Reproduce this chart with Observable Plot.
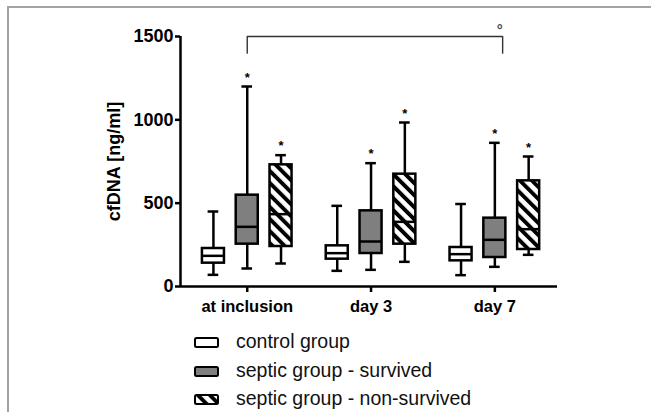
<!DOCTYPE html>
<html><head><meta charset="utf-8">
<script src="https://cdn.jsdelivr.net/npm/d3@7"></script>
<script src="https://cdn.jsdelivr.net/npm/@observablehq/plot@0.6"></script>
<style>
html,body{margin:0;padding:0;background:#fff}
body{width:651px;height:412px;overflow:hidden;position:relative;font-family:"Liberation Sans",Arial,sans-serif}
#border{position:absolute;left:7px;top:6px;width:720px;height:500px;border-left:2px solid #a3a3a3;border-top:2px solid #a3a3a3}
#chart{position:absolute;left:0;top:0}
.sw{position:absolute;left:193px;width:28px;height:13px}
.lt{position:absolute;left:236px;font-size:19.5px;line-height:24px;color:#111;white-space:nowrap}
</style></head><body>
<svg width="0" height="0" style="position:absolute"><defs>
<pattern id="hatch" patternUnits="userSpaceOnUse" width="8.5" height="8.5" patternTransform="rotate(-45)">
<rect width="8.5" height="8.5" fill="#fff"/><rect width="3.9" height="8.5" fill="#000"/></pattern>
</defs></svg>
<div id="border"></div>
<div id="chart"></div>
<div id="legend"></div>
<script>
// ---- data ----
const times = ["at inclusion", "day 3", "day 7"];
const groups = ["control group", "septic group - survived", "septic group - non-survived"];
// box statistics per group, one value per time point
const controlMin = [70, 94, 68];
const controlQ1 = [140, 164, 154];
const controlMed = [184, 200, 194];
const controlQ3 = [228, 244, 234];
const controlMax = [450, 484, 495];

const survivedMin = [108, 100, 118];
const survivedQ1 = [254, 198, 174];
const survivedMed = [358, 270, 280];
const survivedQ3 = [548, 454, 410];
const survivedMax = [1200, 740, 862];

const nonSurvivedMin = [138, 148, 190];
const nonSurvivedQ1 = [240, 254, 222];
const nonSurvivedMed = [434, 388, 344];
const nonSurvivedQ3 = [730, 674, 634];
const nonSurvivedMax = [788, 984, 780];

const significant = [false, true, true]; // "*" above septic groups
const yTicks = [0, 500, 1000, 1500];
// bracket: survived, at inclusion vs day 7
const bracketFrom = "at inclusion", bracketTo = "day 7";
const bracketTop = 1500, bracketBottom = 1400;

// ---- build table ----
const stats = [
  [controlMin, controlQ1, controlMed, controlQ3, controlMax],
  [survivedMin, survivedQ1, survivedMed, survivedQ3, survivedMax],
  [nonSurvivedMin, nonSurvivedQ1, nonSurvivedMed, nonSurvivedQ3, nonSurvivedMax]
];
const rows = [];
times.forEach((t, ti) => groups.forEach((g, gi) => {
  const [mn, q1, md, q3, mx] = stats[gi];
  rows.push({time: t, ti, group: g, gi, min: mn[ti], q1: q1[ti], med: md[ti], q3: q3[ti], max: mx[ti]});
}));

// layout of dodged boxes (in units of time-point spacing)
const dodge = 0.273, halfBox = 0.089, halfCap = 0.043;
const pos = d => d.ti + (d.gi - 1) * dodge;
const fills = ["#ffffff", "#7f7f7f", "url(#hatch)"];
const xDomain = [-0.539, 2.506];

const bracket = [
  {ti: times.indexOf(bracketFrom), gi: 1, y: bracketBottom},
  {ti: times.indexOf(bracketFrom), gi: 1, y: bracketTop},
  {ti: times.indexOf(bracketTo), gi: 1, y: bracketTop},
  {ti: times.indexOf(bracketTo), gi: 1, y: bracketBottom}
];
const bracketNudge = 0.063; // right leg sits slightly right of the box centre
const bx = (d, i) => pos(d) + (i >= 2 ? bracketNudge : 0);

const lw = 2.5;
const marks = [
  Plot.ruleY([0], {strokeWidth: lw}),
  Plot.ruleX([xDomain[0]], {y1: 0, y2: 1500, strokeWidth: lw}),
  Plot.ruleX(rows, {x: pos, y1: "min", y2: "max", stroke: "#000", strokeWidth: lw}),
  Plot.ruleY(rows, {y: "max", x1: d => pos(d) - halfCap, x2: d => pos(d) + halfCap, strokeWidth: lw}),
  Plot.ruleY(rows, {y: "min", x1: d => pos(d) - halfCap, x2: d => pos(d) + halfCap, strokeWidth: lw}),
  ...groups.map((g, gi) => Plot.rect(rows.filter(d => d.gi === gi), {
    x1: d => pos(d) - halfBox, x2: d => pos(d) + halfBox, y1: "q1", y2: "q3",
    fill: fills[gi], stroke: "#000", strokeWidth: lw
  })),
  Plot.ruleY(rows, {y: "med", x1: d => pos(d) - halfBox, x2: d => pos(d) + halfBox, strokeWidth: lw}),
  Plot.text(rows.filter(d => significant[d.gi]), {x: pos, y: "max", text: () => "*", dy: -9, fontSize: 13, fontWeight: "bold", fill: "#000"}),
  Plot.line(bracket, {x: bx, y: "y", stroke: "#333", strokeWidth: 1.4}),
  Plot.text([bracket[2]], {x: d => bx(d, 2), y: "y", text: () => "°", dy: -6, dx: -3, fontSize: 15, fontWeight: "bold", fill: "#444"}),
  Plot.axisX({ticks: [0, 1, 2], tickFormat: i => times[i], tickSize: 6, tickPadding: 8, strokeWidth: lw, fontSize: 16.5, label: null}),
  Plot.axisY({ticks: yTicks, tickFormat: d => String(d), tickSize: 5, tickPadding: 2, strokeWidth: lw, fontSize: 18, label: "cfDNA [ng/ml]", labelAnchor: "center", labelOffset: 73, labelArrow: "none"})
];

const chart = Plot.plot({
  width: 651, height: 325,
  marginLeft: 180, marginRight: 94, marginTop: 36, marginBottom: 39,
  x: {type: "linear", domain: xDomain},
  y: {domain: [0, 1500]},
  style: {fontFamily: "'Liberation Sans', Arial, sans-serif", fontWeight: "bold", fontSize: "16.5px", color: "#000", background: "transparent"},
  marks
});
document.getElementById("chart").appendChild(chart);

// ---- legend ----
const legend = document.getElementById("legend");
groups.forEach((g, i) => {
  const c = 342.5 + i * 28.6;
  const sw = document.createElementNS("http://www.w3.org/2000/svg", "svg");
  sw.setAttribute("class", "sw");
  sw.style.top = (c - 6.5) + "px";
  sw.setAttribute("width", 28); sw.setAttribute("height", 13);
  const r = document.createElementNS("http://www.w3.org/2000/svg", "rect");
  r.setAttribute("x", 2); r.setAttribute("y", 2); r.setAttribute("width", 23); r.setAttribute("height", 9);
  r.setAttribute("rx", 1.5); r.setAttribute("fill", fills[i]); r.setAttribute("stroke", "#000"); r.setAttribute("stroke-width", 2);
  sw.appendChild(r);
  legend.appendChild(sw);
  const t = document.createElement("div");
  t.className = "lt";
  t.style.top = (c + 5.2 - 18.76) + "px";
  t.textContent = g;
  legend.appendChild(t);
});
</script>
</body></html>
